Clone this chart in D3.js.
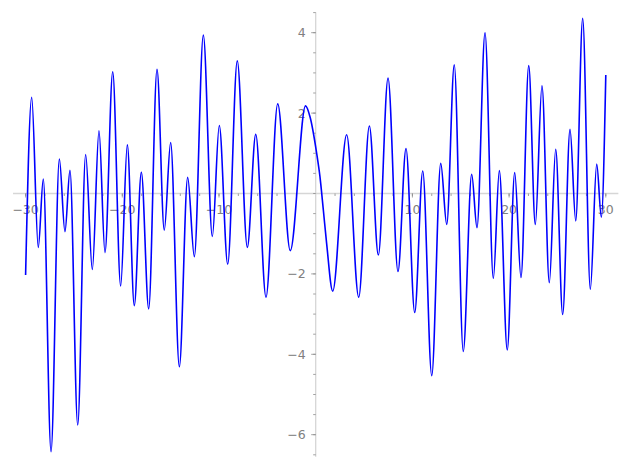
<!DOCTYPE html>
<html>
<head>
<meta charset="utf-8">
<script src="https://cdn.jsdelivr.net/npm/d3@7"></script>
<style>
  html, body { margin: 0; padding: 0; background: #fff; }
  svg { display: block; }
</style>
</head>
<body>
<svg id="chart" width="627" height="470"></svg>
<script>
// ---- data (key points of the curve) ----
const xValues = [
  -30.0, -29.37, -28.69, -28.17, -27.37, -26.51, -25.93, -25.41, -24.61, -23.79,
  -23.10, -22.41, -21.79, -20.99, -20.17, -19.48, -18.76, -18.03, -17.27, -16.41,
  -15.66, -15.0, -14.10, -13.24, -12.55, -11.62, -10.69, -9.97, -9.10, -8.11,
  -7.07, -6.20, -5.14, -3.93, -2.63, -1.05, -0.59, 0.10, 0.44, 0.79,
  1.13, 1.76, 3.20, 4.45, 5.55, 6.48, 7.48, 8.51, 9.34, 10.24,
  11.07, 12.0, 12.93, 13.55, 14.33, 15.26, 16.13, 16.68, 17.51, 18.37,
  18.99, 19.81, 20.58, 21.23, 22.03, 22.71, 23.40, 24.16, 24.82, 25.54,
  26.30, 26.89, 27.61, 28.40, 29.06, 29.54, 30.0
];
const yValues = [
  -2.03, 2.39, -1.34, 0.36, -6.42, 0.86, -0.95, 0.58, -5.76, 0.97,
  -1.89, 1.56, -1.47, 3.03, -2.30, 1.21, -2.79, 0.53, -2.87, 3.09,
  -0.91, 1.27, -4.31, 0.40, -1.57, 3.94, -1.07, 1.69, -1.76, 3.30,
  -1.34, 1.47, -2.58, 2.23, -1.42, 2.18, 1.91, 1.0, 0.42, -0.41,
  -1.24, -2.43, 1.46, -2.58, 1.68, -1.53, 2.87, -1.94, 1.12, -2.96,
  0.56, -4.53, 0.75, -0.77, 3.20, -3.93, 0.48, -0.85, 4.0, -2.11,
  0.57, -3.89, 0.52, -2.09, 3.18, -0.77, 2.68, -2.22, 1.10, -3.01,
  1.60, -0.68, 4.36, -2.38, 0.73, -0.59, 2.95
];
const xMajorTicks = [-30, -20, -10, 10, 20, 30];
const xTickLabels = ["\u221230", "\u221220", "\u221210", "10", "20", "30"];
const yMajorTicks = [-6, -4, -2, 2, 4];
const yTickLabels = ["\u22126", "\u22124", "\u22122", "2", "4"];
const xMinorTicks = d3.range(-30, 30.01, 2);
const yMinorTicks = d3.range(-6.5, 4.51, 0.5);

// ---- layout ----
const svg = d3.select("#chart");
const x = d3.scaleLinear().domain([-30, 30]).range([25.6, 605.8]);
const y = d3.scaleLinear().domain([-6, 4]).range([434.7, 32.7]);
const xAxisExtent = [-31.3, 31.3];
const yAxisExtent = [-6.55, 4.51];
const axisColor = "#d6d6d6";
const tickColor = "#8a8a8a";
const labelColor = "#808080";
const fontFamily = "'DejaVu Sans', sans-serif";

// axis lines
svg.append("line")
  .attr("x1", x(xAxisExtent[0])).attr("x2", x(xAxisExtent[1]))
  .attr("y1", y(0)).attr("y2", y(0))
  .attr("stroke", axisColor).attr("stroke-width", 1.3);
svg.append("line")
  .attr("x1", x(0)).attr("x2", x(0))
  .attr("y1", y(yAxisExtent[1])).attr("y2", y(yAxisExtent[0]))
  .attr("stroke", axisColor).attr("stroke-width", 1.3);

// x ticks (downward)
const gx = svg.append("g");
gx.selectAll("line.minor").data(xMinorTicks.filter(d => d !== 0)).join("line")
  .attr("class", "minor")
  .attr("x1", d => x(d)).attr("x2", d => x(d))
  .attr("y1", y(0)).attr("y2", y(0) + 2.5)
  .attr("stroke", tickColor).attr("stroke-width", 0.8);
gx.selectAll("line.major").data(xMajorTicks).join("line")
  .attr("class", "major")
  .attr("x1", d => x(d)).attr("x2", d => x(d))
  .attr("y1", y(0)).attr("y2", y(0) + 4)
  .attr("stroke", tickColor).attr("stroke-width", 0.8);
gx.selectAll("text").data(xMajorTicks).join("text")
  .attr("x", d => x(d)).attr("y", y(0) + 20.5)
  .attr("text-anchor", "middle")
  .attr("font-family", fontFamily).attr("font-size", 12.5)
  .attr("fill", labelColor)
  .text((d, i) => xTickLabels[i]);

// y ticks (leftward)
const gy = svg.append("g");
gy.selectAll("line.minor").data(yMinorTicks).join("line")
  .attr("class", "minor")
  .attr("x1", x(0) - 2.5).attr("x2", x(0))
  .attr("y1", d => y(d)).attr("y2", d => y(d))
  .attr("stroke", tickColor).attr("stroke-width", 0.8);
gy.selectAll("line.major").data(yMajorTicks).join("line")
  .attr("class", "major")
  .attr("x1", x(0) - 4.5).attr("x2", x(0))
  .attr("y1", d => y(d)).attr("y2", d => y(d))
  .attr("stroke", tickColor).attr("stroke-width", 0.8);
gy.selectAll("text").data(yMajorTicks).join("text")
  .attr("x", x(0) - 10).attr("y", d => y(d))
  .attr("dy", "0.36em")
  .attr("text-anchor", "end")
  .attr("font-family", fontFamily).attr("font-size", 12.5)
  .attr("fill", labelColor)
  .text((d, i) => yTickLabels[i]);

// curve
const pts = xValues.map((v, i) => [v, yValues[i]]);
const line = d3.line()
  .x(d => x(d[0])).y(d => y(d[1]))
  .curve(d3.curveMonotoneX);
svg.append("path")
  .datum(pts)
  .attr("d", line)
  .attr("fill", "none")
  .attr("stroke", "#0000ff")
  .attr("stroke-width", 1.6);
</script>
</body>
</html>
